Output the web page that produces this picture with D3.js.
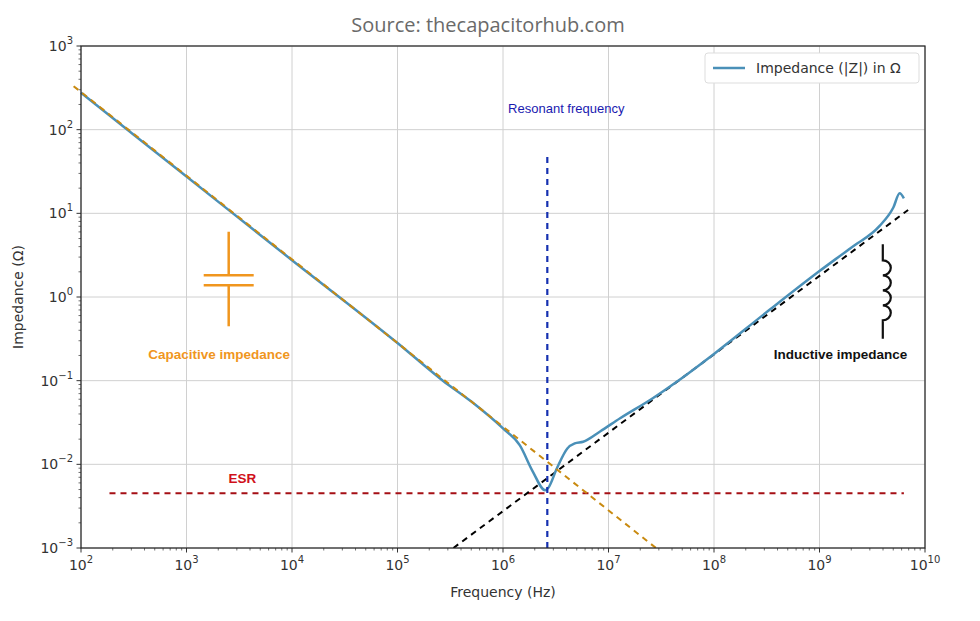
<!DOCTYPE html>
<html><head><meta charset="utf-8">
<script src="https://cdn.jsdelivr.net/npm/d3@7"></script>
<style>body{margin:0;background:#fff}text{font-family:"DejaVu Sans",sans-serif}</style>
</head><body><svg id="c" width="980" height="621"></svg>
<script>
// log10 frequency, log10 impedance
const measuredLogF = [2,3,4,5,5.43,5.7,6.0,6.16,6.28,6.40,6.43,6.51,6.61,6.68,6.76,6.92,7.11,7.42,7.65,8.0,8.5,9.0,9.3,9.57,9.70,9.76,9.80];
const measuredLogZ = [2.44,1.44,0.44,-0.55,-1.0,-1.25,-1.571,-1.774,-2.08,-2.31,-2.28,-2.05,-1.81,-1.75,-1.73,-1.607,-1.45,-1.21,-1.01,-0.68,-0.18,0.31,0.59,0.85,1.07,1.24,1.18];
const capLogF = [1.93, 7.5];
const capLogZ = [2.52, -3.05];
const indLogF = [5.53, 9.84];
const indLogZ = [-3.0, 1.04];
const esrLogF = [2.27, 9.8];
const esrLogZ = [-2.345, -2.345];
const resLogF = [6.42, 6.42];
const resLogZ = [-3.0, 1.70];
const xTicks = [2,3,4,5,6,7,8,9,10];
const yTicks = [-3,-2,-1,0,1,2,3];

const svg = d3.select("#c");
const L=81,R=925,T=46,B=548;
const x = d3.scaleLinear().domain([2,10]).range([L,R]);
const y = d3.scaleLinear().domain([-3,3]).range([B,T]);
svg.append("clipPath").attr("id","cp").append("rect").attr("x",L-10).attr("y",T).attr("width",R-L+10).attr("height",B-T);

svg.append("text").attr("x",488).attr("y",32).attr("text-anchor","middle").attr("fill","#6a6a6a").attr("font-size",20).style("font-family","'Open Sans',sans-serif").text("Source: thecapacitorhub.com");

const g = svg.append("g");
xTicks.forEach(t=>g.append("line").attr("x1",x(t)).attr("x2",x(t)).attr("y1",T).attr("y2",B).attr("stroke","#d0d0d0"));
yTicks.forEach(t=>g.append("line").attr("x1",L).attr("x2",R).attr("y1",y(t)).attr("y2",y(t)).attr("stroke","#d0d0d0"));

for(let d=2; d<10; d++) for(let m=2;m<10;m++){const v=x(d+Math.log10(m)); g.append("line").attr("x1",v).attr("x2",v).attr("y1",B).attr("y2",B+2.5).attr("stroke","#333").attr("stroke-width",0.7);}
for(let d=-3; d<3; d++) for(let m=2;m<10;m++){const v=y(d+Math.log10(m)); g.append("line").attr("x1",L).attr("x2",L-2.5).attr("y1",v).attr("y2",v).attr("stroke","#333").attr("stroke-width",0.7);}
xTicks.forEach(t=>{g.append("line").attr("x1",x(t)).attr("x2",x(t)).attr("y1",B).attr("y2",B+4.5).attr("stroke","#333");
 const tx=g.append("text").attr("x",x(t)).attr("y",B+22).attr("text-anchor","middle").attr("font-size",14).attr("fill","#333");
 tx.append("tspan").text("10"); tx.append("tspan").attr("dy",-7).attr("font-size",10).text(t);});
yTicks.forEach(t=>{g.append("line").attr("x1",L).attr("x2",L-4.5).attr("y1",y(t)).attr("y2",y(t)).attr("stroke","#333");
 const tx=g.append("text").attr("x",L-8).attr("y",y(t)+5).attr("text-anchor","end").attr("font-size",14).attr("fill","#333");
 tx.append("tspan").text("10"); tx.append("tspan").attr("dy",-7).attr("font-size",10).text(t<0?"\u2212"+(-t):t);});

svg.append("text").attr("x",(L+R)/2).attr("y",597).attr("text-anchor","middle").attr("font-size",14).attr("fill","#333").text("Frequency (Hz)");
svg.append("text").attr("transform","translate(23,"+((T+B)/2)+") rotate(-90)").attr("text-anchor","middle").attr("font-size",14).attr("fill","#333").text("Impedance (\u03a9)");

const line = d3.line().x(d=>x(d[0])).y(d=>y(d[1]));
const ln = d3.line().x(d=>x(d[0])).y(d=>y(d[1])).curve(d3.curveMonotoneX);
const zip=(a,b)=>a.map((v,i)=>[v,b[i]]);
const pg = svg.append("g").attr("clip-path","url(#cp)");
pg.append("path").attr("d",line(zip(esrLogF,esrLogZ))).attr("stroke","#a50f15").attr("stroke-width",2).attr("stroke-dasharray","6,5").attr("fill","none");
pg.append("path").attr("d",line(zip(indLogF,indLogZ))).attr("stroke","#000").attr("stroke-width",2).attr("stroke-dasharray","6,5").attr("fill","none");
pg.append("path").attr("d",ln(zip(measuredLogF,measuredLogZ))).attr("stroke","#4a90b8").attr("stroke-width",2.5).attr("fill","none");
pg.append("path").attr("d",line(zip(capLogF,capLogZ))).attr("stroke","#c98a10").attr("stroke-width",2).attr("stroke-dasharray","6,5").attr("fill","none");
pg.append("path").attr("d",line(zip(resLogF,resLogZ))).attr("stroke","#1530b0").attr("stroke-width",2.2).attr("stroke-dasharray","6,5").attr("fill","none");

svg.append("rect").attr("x",L).attr("y",T).attr("width",R-L).attr("height",B-T).attr("fill","none").attr("stroke","#222").attr("stroke-width",1.2);

const af="'Liberation Sans',sans-serif";
svg.append("text").attr("x",x(6.6)).attr("y",y(2.2)).attr("text-anchor","middle").attr("font-size",13).attr("fill","#1a1ab0").style("font-family",af).text("Resonant frequency");
svg.append("text").attr("x",x(3.31)).attr("y",y(-0.74)).attr("text-anchor","middle").attr("font-size",13.5).attr("font-weight","bold").attr("fill","#f0961e").style("font-family",af).text("Capacitive impedance");
svg.append("text").attr("x",x(3.53)).attr("y",y(-2.22)).attr("text-anchor","middle").attr("font-size",13.5).attr("font-weight","bold").attr("fill","#d0101a").style("font-family",af).text("ESR");
svg.append("text").attr("x",x(9.2)).attr("y",y(-0.74)).attr("text-anchor","middle").attr("font-size",13.5).attr("font-weight","bold").attr("fill","#111").style("font-family",af).text("Inductive impedance");

const cx=x(3.4), pc=y(0.2);
const cg=svg.append("g").attr("stroke","#f0961e").attr("stroke-width",2.5).attr("fill","none");
cg.append("line").attr("x1",cx).attr("x2",cx).attr("y1",y(0.78)).attr("y2",pc-5);
cg.append("line").attr("x1",cx).attr("x2",cx).attr("y1",pc+5).attr("y2",y(-0.35));
cg.append("line").attr("x1",cx-25).attr("x2",cx+25).attr("y1",pc-5).attr("y2",pc-5);
cg.append("line").attr("x1",cx-25).attr("x2",cx+25).attr("y1",pc+5).attr("y2",pc+5);
const ix=x(9.6), iy0=y(0.63), iy1=y(-0.5);
let p="M"+ix+","+iy0+" v16";
for(let k=0;k<4;k++){p+=" a8,7.5 0 0 1 0,15";}
p+=" V"+iy1;
svg.append("path").attr("d",p).attr("stroke","#111").attr("stroke-width",2.2).attr("fill","none");

const lg=svg.append("g");
lg.append("rect").attr("x",705).attr("y",53).attr("width",214).attr("height",30).attr("rx",3).attr("fill","#fff").attr("stroke","#ddd");
lg.append("line").attr("x1",713).attr("x2",745).attr("y1",68).attr("y2",68).attr("stroke","#4a90b8").attr("stroke-width",2.5);
lg.append("text").attr("x",756).attr("y",73).attr("font-size",14).attr("fill","#333").text("Impedance (|Z|) in \u03a9");
</script></body></html>
